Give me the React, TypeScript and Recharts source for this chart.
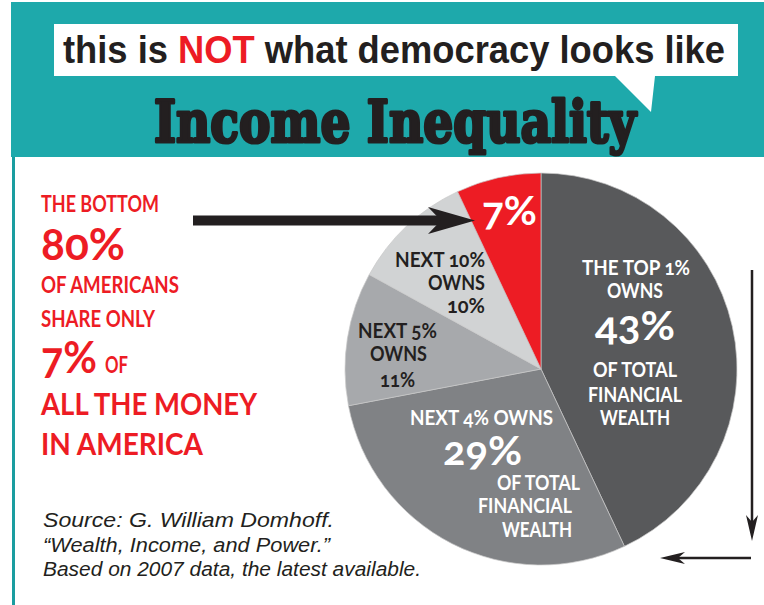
import { Cell, Pie, PieChart } from "recharts";

// slices run clockwise from 12 o'clock
const groups = ["Top 1%", "Next 4%", "Next 5%", "Next 10%", "Bottom 80%"];
const shares = [43, 29, 11, 10, 7];

const sliceLabels = [
  ["THE TOP 1%", "OWNS", "43%", "OF TOTAL", "FINANCIAL", "WEALTH"],
  ["NEXT 4% OWNS", "29%", "OF TOTAL", "FINANCIAL", "WEALTH"],
  ["NEXT 5%", "OWNS", "11%"],
  ["NEXT 10%", "OWNS", "10%"],
  ["7%"],
];

const leftLines = [
  "THE BOTTOM",
  "80%",
  "OF AMERICANS",
  "SHARE ONLY",
  "7%",
  "OF",
  "ALL THE MONEY",
  "IN AMERICA",
];

const sourceLines = [
  "Source: G. William Domhoff.",
  "\u201cWealth, Income, and Power.\u201d",
  "Based on 2007 data, the latest available.",
];

const data = groups.map((name, i) => ({ name, value: shares[i] }));

const sliceColors = ["#58595b", "#808285", "#a7a9ac", "#d1d3d4", "#ed1c24"];
const labelFill = ["#ffffff", "#ffffff", "#231f20", "#231f20", "#ffffff"];
const RED = "#ed1c24";
const INK = "#231f20";
const TEAL = "#1ea9ab";

// [dx, dy, width, fontSize] relative to pie centre, per label line
const labelLayout = [
  [
    [41, -94, 108, 20],
    [66, -71, 56, 20],
    [54, -29, 80, 40],
    [52, 8, 84, 20],
    [47, 33, 94, 20],
    [59, 56, 70, 20],
  ],
  [
    [-131, 56, 143, 20],
    [-98, 96, 79, 40],
    [-44, 121, 83, 20],
    [-63, 144, 94, 20],
    [-39, 168, 70, 20],
  ],
  [
    [-183, -31, 79, 20],
    [-171, -8, 57, 20],
    [-161, 18, 35, 20],
  ],
  [
    [-146, -102, 90, 20],
    [-113, -79, 57, 20],
    [-94, -56, 38, 20],
  ],
  [[-59, -144, 55, 40]],
];

// [y, width, fontSize]
const leftLayout = [
  [212, 118, 22],
  [260, 84, 44],
  [293, 138, 22],
  [327, 114, 22],
  [373, 56, 44],
  [373, 23, 22],
  [415, 216, 31],
  [455, 162, 31],
];

const labelFont = "Lato, 'Open Sans', sans-serif";
const onum = { fontFeatureSettings: '"onum" 1' } as const;

function renderSliceLabel(props: any) {
  const { cx, cy, index } = props;
  const lines = sliceLabels[index];
  return (
    <g>
      {lines.map((t, j) => {
        const [dx, dy, w, fs] = labelLayout[index][j];
        return (
          <text
            key={j}
            x={cx + dx}
            y={cy + dy}
            fill={labelFill[index]}
            fontFamily={labelFont}
            fontWeight={700}
            fontSize={fs}
            textLength={w}
            lengthAdjust="spacingAndGlyphs"
            style={onum}
          >
            {t}
          </text>
        );
      })}
    </g>
  );
}

function Overlay() {
  return (
    <svg
      width={764}
      height={605}
      style={{ position: "absolute", left: 0, top: 0, pointerEvents: "none" }}
    >
      <rect x={11} y={2} width={753} height={155} fill={TEAL} />
      <rect x={12} y={157} width={3} height={448} fill="#1a9da0" />
      <polygon
        points="54,24 738,24 738,76 655,76 651,112 615,76 54,76"
        fill="#ffffff"
      />
      <text
        x={63}
        y={63}
        fontFamily="'Liberation Sans', Arial, sans-serif"
        fontWeight={700}
        fontSize={38}
        fill={INK}
        textLength={662}
        lengthAdjust="spacingAndGlyphs"
      >
        this is <tspan fill={RED}>NOT</tspan> what democracy looks like
      </text>
      <text
        x={154}
        y={142}
        fontFamily="'DejaVu Serif', serif"
        fontWeight={900}
        fontSize={57}
        fill={INK}
        stroke={INK}
        strokeWidth={3.2}
        strokeLinejoin="round"
        textLength={482}
        lengthAdjust="spacingAndGlyphs"
      >
        Income Inequality
      </text>

      {leftLines.map((t, i) => {
        const [y, w, fs] = leftLayout[i];
        const x = i === 5 ? 105 : 41;
        return (
          <text
            key={i}
            x={x}
            y={y}
            fill={RED}
            fontFamily={labelFont}
            fontWeight={700}
            fontSize={fs}
            textLength={w}
            lengthAdjust="spacingAndGlyphs"
            style={onum}
          >
            {t}
          </text>
        );
      })}

      {sourceLines.map((t, i) => (
        <text
          key={i}
          x={43}
          y={527 + i * 24.5}
          fill={INK}
          fontFamily="'Liberation Sans', Arial, sans-serif"
          fontStyle="italic"
          fontSize={20.5}
          textLength={[291, 287, 378][i]}
          lengthAdjust="spacingAndGlyphs"
        >
          {t}
        </text>
      ))}

      {/* arrow into the 7% slice */}
      <rect x={193} y={215.5} width={250} height={10} fill={INK} />
      <path d="M475,220.5 L428,207 L441,220.5 L428,234 Z" fill={INK} />

      {/* right side arrows */}
      <line x1={752} y1={270} x2={752} y2={530} stroke={INK} strokeWidth={2.5} />
      <path d="M752,541 L746,515 L752,522 L758,515 Z" fill={INK} />
      <line x1={751} y1={558} x2={672} y2={558} stroke={INK} strokeWidth={2.5} />
      <path d="M660,558 L685,552 L678,558 L685,564 Z" fill={INK} />
    </svg>
  );
}

export default function App() {
  return (
    <div
      style={{
        position: "absolute",
        left: 0,
        top: 0,
        width: 764,
        height: 605,
        background: "#ffffff",
      }}
    >
      <PieChart width={764} height={605} margin={{ top: 0, right: 0, bottom: 0, left: 0 }}>
        <Pie
          data={data}
          dataKey="value"
          nameKey="name"
          cx={541}
          cy={369}
          outerRadius={196}
          startAngle={90}
          endAngle={-270}
          stroke="#c8c8c8"
          strokeWidth={0.7}
          label={renderSliceLabel}
          labelLine={false}
          isAnimationActive={false}
        >
          {data.map((d, i) => (
            <Cell key={d.name} fill={sliceColors[i]} />
          ))}
        </Pie>
      </PieChart>
      <Overlay />
    </div>
  );
}
